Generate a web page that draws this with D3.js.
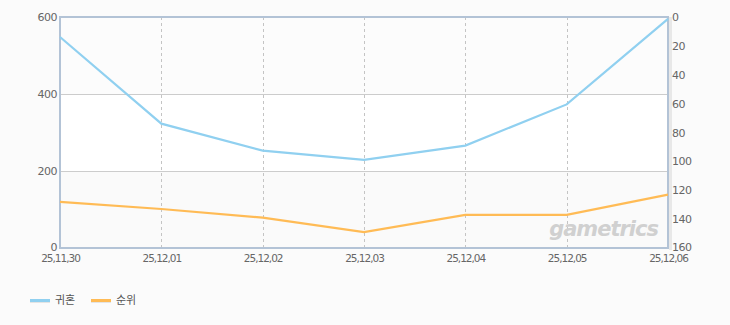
<!DOCTYPE html>
<html>
<head>
<meta charset="utf-8">
<script src="https://cdn.jsdelivr.net/npm/d3@7"></script>
<style>
  body { margin: 0; background: #fbfbfb; }
  svg text { font-family: "Noto Sans CJK KR", "DejaVu Sans", sans-serif; }
</style>
</head>
<body>
<div id="chart"></div>
<script>
// chart data
var dates = ["25,11,30", "25,12,01", "25,12,02", "25,12,03", "25,12,04", "25,12,05", "25,12,06"];
var usage = [548, 323, 253, 229, 266, 373, 595];   // 귀혼 (left axis)
var rank = [128, 133, 139, 149, 137, 137, 123];    // 순위 (right axis, reversed)
var leftTicks = [0, 200, 400, 600];
var rightTicks = [0, 20, 40, 60, 80, 100, 120, 140, 160];
var seriesNames = ["귀혼", "순위"];
var seriesColors = ["#90d0f0", "#ffbb55"];

var width = 730, height = 325;
var plotL = 60, plotR = 668, plotT = 17, plotB = 248;

var svg = d3.select('#chart').append('svg')
  .attr('width', width).attr('height', height)
  .style('background', '#fbfbfb');

var x = d3.scalePoint().domain(dates).range([plotL, plotR]);
var yL = d3.scaleLinear().domain([0, 600]).range([plotB, plotT]);
var yR = d3.scaleLinear().domain([0, 160]).range([plotT, plotB]);

// bands
var bandCols = ["#fafafa", "#ffffff", "#fcfcfc"];
for (var i = 0; i < leftTicks.length - 1; i++) {
  svg.append('rect')
    .attr('x', plotL).attr('width', plotR - plotL)
    .attr('y', yL(leftTicks[i + 1]))
    .attr('height', yL(leftTicks[i]) - yL(leftTicks[i + 1]))
    .attr('fill', bandCols[i]);
}

// horizontal grid
svg.append('g').selectAll('line')
  .data(leftTicks.slice(1, -1))
  .enter().append('line')
  .attr('x1', plotL).attr('x2', plotR)
  .attr('y1', function (d) { return Math.round(yL(d)) + 0.5; })
  .attr('y2', function (d) { return Math.round(yL(d)) + 0.5; })
  .attr('stroke', '#cccccc');

// vertical dashed grid
svg.append('g').selectAll('line')
  .data(dates.slice(1, -1))
  .enter().append('line')
  .attr('x1', function (d) { return Math.round(x(d)) + 0.5; })
  .attr('x2', function (d) { return Math.round(x(d)) + 0.5; })
  .attr('y1', plotT).attr('y2', plotB)
  .attr('stroke', '#c4c4c4')
  .attr('stroke-dasharray', '3,3');

// watermark
svg.append('text')
  .attr('x', 658).attr('y', 236)
  .attr('text-anchor', 'end')
  .style('font-family', '"DejaVu Sans", sans-serif')
  .style('font-size', '21px')
  .style('font-weight', 'bold')
  .style('font-style', 'italic')
  .style('letter-spacing', '-1px')
  .attr('fill', '#d0d0d0')
  .text('gametrics');

// right shadow
svg.append('rect')
  .attr('x', plotR + 1).attr('y', plotT).attr('width', 3).attr('height', plotB - plotT + 2)
  .attr('fill', '#e8e8e8');

// frame
svg.append('rect')
  .attr('x', plotL).attr('y', plotT)
  .attr('width', plotR - plotL).attr('height', plotB - plotT)
  .attr('fill', 'none')
  .attr('stroke', '#b3c3d6')
  .attr('stroke-width', 2);

// lines
var lineL = d3.line().x(function (d, i) { return x(dates[i]); }).y(function (d) { return yL(d); });
var lineR = d3.line().x(function (d, i) { return x(dates[i]); }).y(function (d) { return yR(d); });

svg.append('path').datum(rank)
  .attr('d', lineR)
  .attr('fill', 'none')
  .attr('stroke', seriesColors[1])
  .attr('stroke-width', 2.2);

svg.append('path').datum(usage)
  .attr('d', lineL)
  .attr('fill', 'none')
  .attr('stroke', seriesColors[0])
  .attr('stroke-width', 2.2);

// axes
var axL = svg.append('g')
  .attr('transform', 'translate(' + plotL + ',0)')
  .call(d3.axisLeft(yL).tickValues(leftTicks).tickSize(0).tickPadding(3));
var axR = svg.append('g')
  .attr('transform', 'translate(' + plotR + ',0)')
  .call(d3.axisRight(yR).tickValues(rightTicks).tickSize(0).tickPadding(4));
var axB = svg.append('g')
  .attr('transform', 'translate(0,' + plotB + ')')
  .call(d3.axisBottom(x).tickSize(0).tickPadding(7));

[axL, axR, axB].forEach(function (a) {
  a.select('.domain').remove();
  a.selectAll('text')
    .style('font-family', '"DejaVu Sans", sans-serif')
    .style('font-size', '11px')
    .style('letter-spacing', '-0.5px')
    .attr('fill', '#666');
});
axB.selectAll('text').style('font-size', '10.5px').style('letter-spacing', '-1px');
// nudge end labels of the value axes so they do not touch the dates
axL.selectAll('text').attr('dy', function (d) { return d === 0 ? '0.2em' : '0.32em'; });
axR.selectAll('text').attr('dy', function (d) { return d === 160 ? '0.2em' : '0.32em'; });

// legend
var legend = svg.append('g').attr('transform', 'translate(30,299)');
seriesNames.forEach(function (name, i) {
  var g = legend.append('g').attr('transform', 'translate(' + (i * 61) + ',0)');
  g.append('rect').attr('x', 0).attr('y', 1).attr('width', 20).attr('height', 3)
    .attr('fill', '#e4e4e4');
  g.append('rect').attr('x', 0).attr('y', 0).attr('width', 20).attr('height', 3)
    .attr('fill', seriesColors[i]);
  g.append('text').attr('x', 25).attr('y', 5)
    .style('font-size', '11px')
    .attr('fill', '#555')
    .text(name);
});
</script>
</body>
</html>
